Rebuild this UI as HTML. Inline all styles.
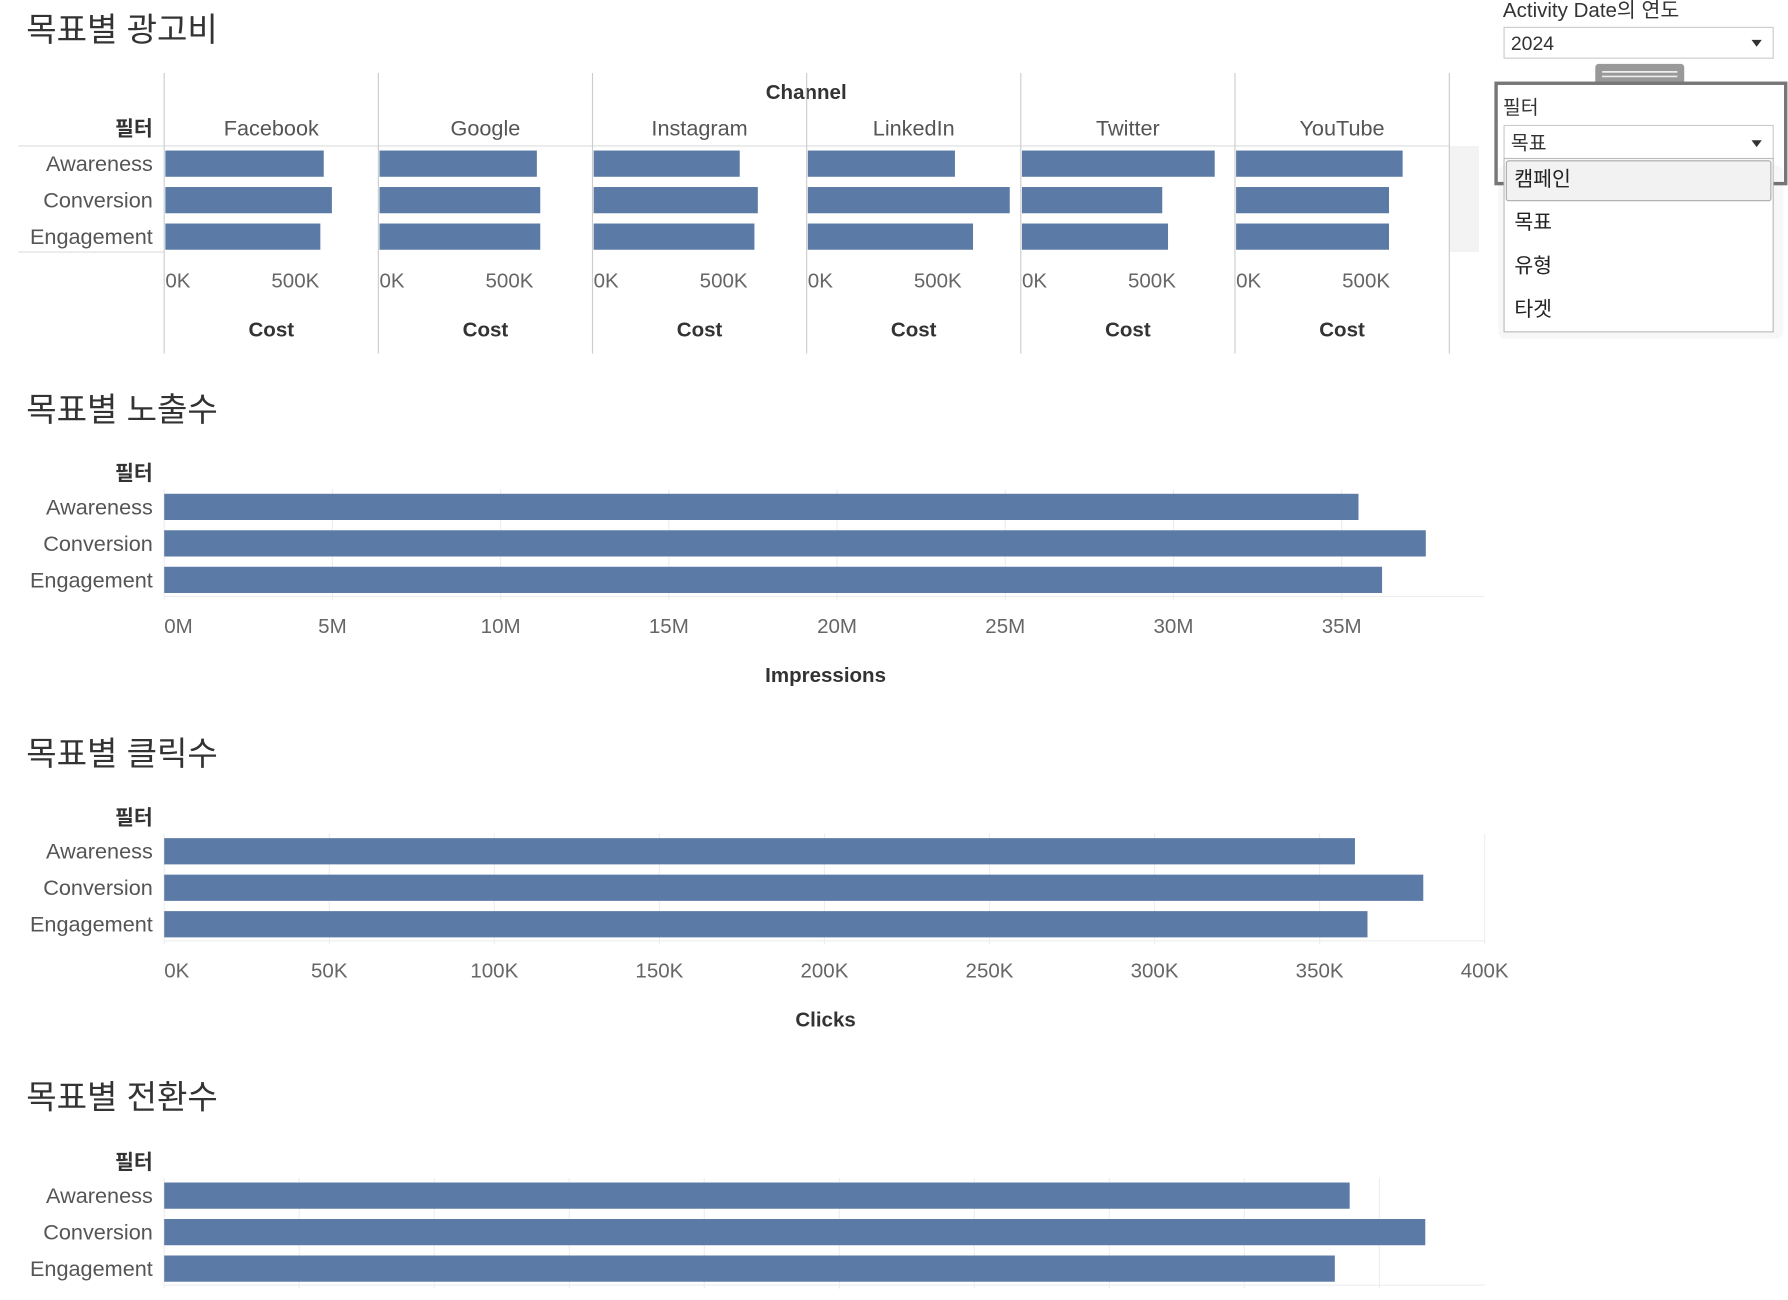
<!DOCTYPE html>
<html><head><meta charset="utf-8">
<style>
html,body{margin:0;padding:0;background:#fff;overflow:hidden}
svg{display:block;font-family:"Liberation Sans","Noto Sans CJK KR",sans-serif}
</style></head>
<body>
<svg id="root" width="1788" height="1300" viewBox="0 0 1568 1140" xmlns="http://www.w3.org/2000/svg">
</svg>
<script>
// ---- data ----
const goals = ["Awareness","Conversion","Engagement"];
const channels = ["Facebook","Google","Instagram","LinkedIn","Twitter","YouTube"];
const costFacebook = [604000,635000,591000];
const costGoogle = [600000,613000,613000];
const costInstagram = [557000,626000,613000];
const costLinkedIn = [561000,770000,630000];
const costTwitter = [735000,535000,557000];
const costYouTube = [635000,583000,583000];
const costTickLabels = ["0K","500K"];
const costTicks = [0,500000];
const impressions = [35500000,37500000,36200000];
const impTicks = [0,5e6,10e6,15e6,20e6,25e6,30e6,35e6];
const impTickLabels = ["0M","5M","10M","15M","20M","25M","30M","35M"];
const clicks = [360700,381400,364500];
const clickTicks = [0,50000,100000,150000,200000,250000,300000,350000,400000];
const clickTickLabels = ["0K","50K","100K","150K","200K","250K","300K","350K","400K"];
const conversions = [8780,9340,8670];
const convTicks = [0,1000,2000,3000,4000,5000,6000,7000,8000,9000];

const NS="http://www.w3.org/2000/svg";
const root=document.getElementById('root');
const BAR="#5b7aa5";
function el(tag,attrs,parent,txt){const e=document.createElementNS(NS,tag);for(const k in attrs)e.setAttribute(k,attrs[k]);if(txt!==undefined)e.textContent=txt;(parent||root).appendChild(e);return e;}
function grp(name){const g=el('g',{});return g;}

function title(txt,y,name){const t=el('text',{x:23,y:y,'font-size':29,fill:'#333'},root,txt);}
function rowLabels(g,y0,headerY){
  const h=el('text',{x:134,y:headerY,'font-size':18,'text-anchor':'end',fill:'#333','font-weight':'bold'},g,'필터');
  
  goals.forEach((n,i)=>{const t=el('text',{x:134,y:y0+i*32+18,'font-size':19,'text-anchor':'end',fill:'#555'},g,n);
    });
}

// ---- cost small multiples ----
title('목표별 광고비',36,'cost-title');
const gc=grp('cost-chart');
el('rect',{x:1271,y:128,width:26,height:93,fill:'#f3f3f3'},gc);
el('line',{x1:16,x2:1271,y1:128,y2:128,stroke:'#ddd'},gc);
el('line',{x1:16,x2:144,y1:221,y2:221,stroke:'#ddd'},gc);
const ch=el('text',{x:707,y:87,'font-size':18,'text-anchor':'middle','font-weight':'bold',fill:'#333'},gc,'Channel');

rowLabels(gc,132,119);
const costSeries=[costFacebook,costGoogle,costInstagram,costLinkedIn,costTwitter,costYouTube];
const panelW=187.8, costScale=115/500000;
channels.forEach((c,pi)=>{
  const px=144+pi*panelW;
  const pg=el('g',{},gc);
  
  el('line',{x1:px,x2:px,y1:64,y2:310,stroke:'#ccc'},pg);
  const h=el('text',{x:px+panelW/2,y:119,'font-size':19,'text-anchor':'middle',fill:'#555'},pg,c);
  
  costSeries[pi].forEach((v,i)=>{
    const r=el('rect',{x:px+1,y:132+i*32,width:v*costScale,height:23,fill:BAR},pg);
    
    
  });
  costTicks.forEach((t,ti)=>{
    const x=px+t*costScale;
    const tx=el('text',{x:ti===0?px+1:x,y:252,'font-size':18,'text-anchor':ti===0?'start':'middle',fill:'#666'},pg,costTickLabels[ti]);
    
  });
  const at=el('text',{x:px+panelW/2,y:295,'font-size':18,'text-anchor':'middle','font-weight':'bold',fill:'#333'},pg,'Cost');
  
});
el('line',{x1:1271,x2:1271,y1:64,y2:310,stroke:'#ccc'},gc);

// ---- generic full bar chart ----
function barChart(name,titleTxt,titleY,barTop,values,ticks,labels,maxV,axisTitle){
  title(titleTxt,titleY,name+'-title');
  const g=grp(name+'-chart');
  const x0=144, x1=1302;
  const sx=v=>x0+(v/maxV)*(x1-x0);
  ticks.forEach(t=>{el('line',{x1:sx(t),x2:sx(t),y1:barTop-4,y2:barTop+93,stroke:'#eee'},g);});
  el('line',{x1:x0,x2:x1,y1:barTop+90,y2:barTop+90,stroke:'#eee'},g);
  rowLabels(g,barTop,barTop-12);
  values.forEach((v,i)=>{
    const r=el('rect',{x:x0,y:barTop+i*32,width:sx(v)-x0,height:23,fill:BAR},g);
    
  });
  if(labels){
    ticks.forEach((t,ti)=>{
      const tx=el('text',{x:ti===0?x0:sx(t),y:barTop+122,'font-size':18,'text-anchor':ti===0?'start':'middle',fill:'#666'},g,labels[ti]);
      
    });
    const at=el('text',{x:724,y:barTop+165,'font-size':18,'text-anchor':'middle','font-weight':'bold',fill:'#333'},g,axisTitle);
    
  }
}
barChart('impressions','목표별 노출수',369,433,impressions,impTicks,impTickLabels,39.25e6,'Impressions');
barChart('clicks','목표별 클릭수',671,735,clicks,clickTicks,clickTickLabels,400000,'Clicks');
barChart('conversions','목표별 전환수',972,1037,conversions,convTicks,null,9780,'Conversions');

// ---- filter controls ----
const fg=grp('filter-panel');
const yl=el('text',{x:1318,y:15,'font-size':18,fill:'#333'},fg,'Activity Date의 연도');

const yb=el('rect',{x:1319,y:24,width:236,height:27,fill:'#fff',stroke:'#ccc'},fg);

el('text',{x:1325,y:44,'font-size':17,fill:'#333'},fg,'2024');
el('path',{d:'M1536 35 l9 0 l-4.5 6z',fill:'#333'},fg);
el('rect',{x:1399,y:56,width:78,height:18,rx:3,fill:'#999'},fg);
el('line',{x1:1405,x2:1471,y1:63,y2:63,stroke:'#eee','stroke-width':1.5},fg);
el('line',{x1:1405,x2:1471,y1:67,y2:67,stroke:'#eee','stroke-width':1.5},fg);
el('rect',{x:1312,y:73,width:254,height:88,fill:'#fff',stroke:'#777','stroke-width':3},fg);
const fl=el('text',{x:1318,y:100,'font-size':17,fill:'#333'},fg,'필터');

const fb=el('rect',{x:1319,y:110,width:236,height:29,fill:'#fff',stroke:'#ccc'},fg);

el('text',{x:1325,y:131,'font-size':17,fill:'#333'},fg,'목표');
el('path',{d:'M1536 123 l9 0 l-4.5 6z',fill:'#333'},fg);
el('rect',{x:1314,y:145,width:250,height:152,fill:'#000',opacity:0.03,rx:6},fg);
el('rect',{x:1319,y:139,width:236,height:152,fill:'#fff',stroke:'#bbb'},fg);
el('rect',{x:1321,y:141,width:232,height:35,rx:2,fill:'#f2f2f2',stroke:'#aaa'},fg);
["캠페인","목표","유형","타겟"].forEach((o,i)=>{
  const t=el('text',{x:1328,y:163+i*38,'font-size':18,fill:'#222'},fg,o);
  
});
</script>
</body></html>
